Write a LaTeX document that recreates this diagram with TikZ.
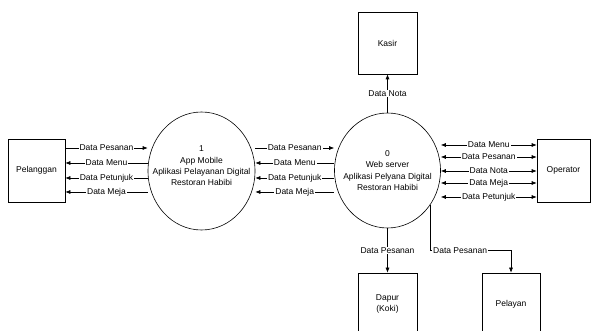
\documentclass[tikz,border=0pt]{standalone}
\usepackage{fontspec}
\setmainfont{Liberation Sans}
\usetikzlibrary{arrows.meta,shapes.geometric}

\begin{document}
\begin{tikzpicture}[x=1pt,y=-1pt,line width=0.6pt,>={Latex[length=5pt,width=4pt]},
	every node/.style={font=\fontsize{8.5}{11.3}\selectfont},
	entitas/.style={draw,align=center,inner sep=0pt},
	proses/.style={draw,ellipse,inner sep=0pt},
	lbl/.style={fill=white,inner sep=1pt}]
	\useasboundingbox (0,0) rectangle (592,331);
	\node[entitas,minimum width=57pt,minimum height=63pt] (pel) at (36.5,170.5) {Pelanggan};
	\node[proses,minimum width=107pt,minimum height=118pt,label={[align=center,yshift=5pt]center:1\\App Mobile\\Aplikasi Pelayanan Digital\\Restoran Habibi}] (p1) at (201.5,171) {};
	\node[proses,minimum width=106pt,minimum height=115pt,label={[align=center]center:0\\Web server\\Aplikasi Pelyana Digital\\Restoran Habibi}] (p0) at (387.5,170.5) {};
	\node[entitas,minimum width=59pt,minimum height=62pt] (kas) at (387.5,43) {Kasir};
	\node[entitas,minimum width=53pt,minimum height=63pt] (opr) at (563.5,170.5) {Operator};
	\node[entitas,minimum width=59pt,minimum height=62pt] (dap) at (387.5,304) {Dapur\\(Koki)};
	\node[entitas,minimum width=58pt,minimum height=62pt] (pely) at (511,304) {Pelayan};
	\coordinate (b1) at (0,148);
	\coordinate (b2) at (0,163);
	\coordinate (b3) at (0,178);
	\coordinate (b4) at (0,192);
	\coordinate (c1) at (0,145);
	\coordinate (c2) at (0,157);
	\coordinate (c3) at (0,171);
	\coordinate (c4) at (0,183);
	\coordinate (c5) at (0,197);
	\draw[->] (pel.east |- b1) -- node[lbl] {Data Pesanan} (p1.west |- b1);
	\draw[<-] (pel.east |- b2) -- node[lbl] {Data Menu} (p1.west |- b2);
	\draw[<-] (pel.east |- b3) -- node[lbl] {Data Petunjuk} (p1.west |- b3);
	\draw[<-] (pel.east |- b4) -- node[lbl] {Data Meja} (p1.west |- b4);
	\draw[->] (p1.east |- b1) -- node[lbl] {Data Pesanan} (p0.west |- b1);
	\draw[<-] (p1.east |- b2) -- node[lbl] {Data Menu} (p0.west |- b2);
	\draw[<-] (p1.east |- b3) -- node[lbl] {Data Petunjuk} (p0.west |- b3);
	\draw[<-] (p1.east |- b4) -- node[lbl] {Data Meja} (p0.west |- b4);
	\draw[<->] (p0.east |- c1) -- node[lbl] {Data Menu} (opr.west |- c1);
	\draw[<->] (p0.east |- c2) -- node[lbl] {Data Pesanan} (opr.west |- c2);
	\draw[<->] (p0.east |- c3) -- node[lbl] {Data Nota} (opr.west |- c3);
	\draw[<->] (p0.east |- c4) -- node[lbl] {Data Meja} (opr.west |- c4);
	\draw[<->] (p0.east |- c5) -- node[lbl] {Data Petunjuk} (opr.west |- c5);
	\draw[->] (p0.north) -- node[lbl] {Data Nota} (kas.south);
	\draw[->] (p0.south) -- node[lbl] (ld) {Data Pesanan} (dap.north);
	\draw[->] (p0.321) -- (p0.321 |- ld) -- node[lbl,pos=0.37] {Data Pesanan} (pely.north |- ld) -- (pely.north);
\end{tikzpicture}
\end{document}
